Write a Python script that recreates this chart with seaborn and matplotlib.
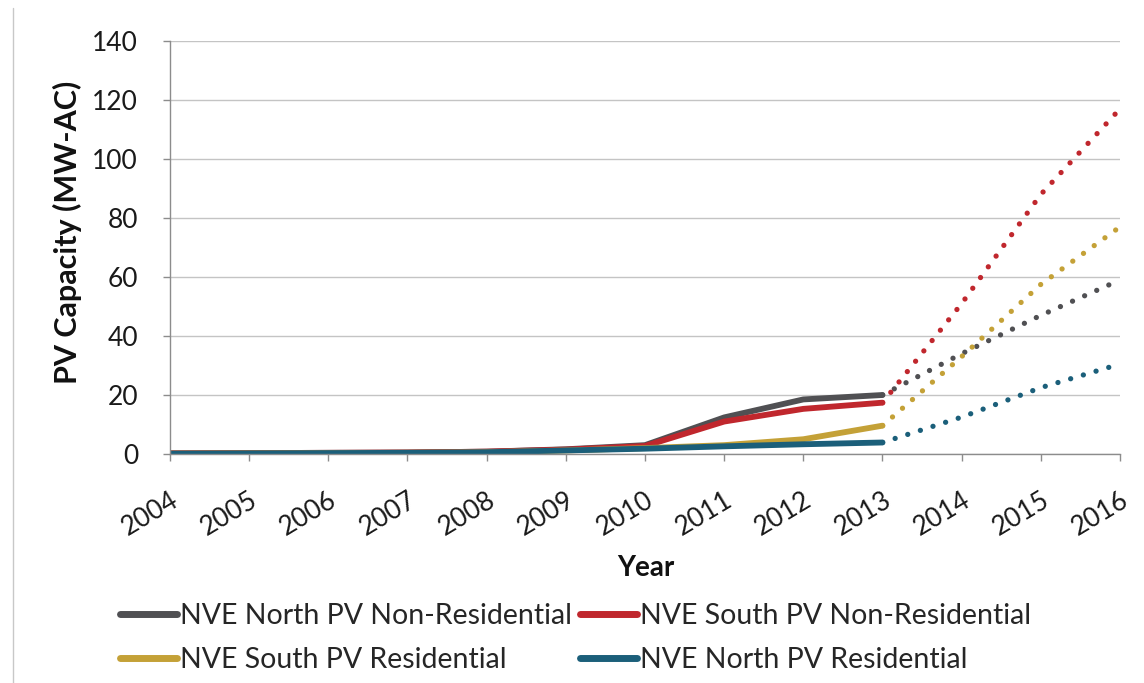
import matplotlib
matplotlib.use("Agg")
import matplotlib.pyplot as plt
import pandas as pd
import seaborn as sns
from matplotlib.lines import Line2D

# Installed PV capacity by utility area (MW-AC): recorded 2004-2013, projected 2013-2016
series_names = [
    "NVE North PV Non-Residential",
    "NVE South PV Non-Residential",
    "NVE South PV Residential",
    "NVE North PV Residential",
]
series_colors = ["#505053", "#c0272d", "#c4a137", "#1b5f7a"]

years_hist = [2004, 2005, 2006, 2007, 2008, 2009, 2010, 2011, 2012, 2013]
north_nonres_hist = [0.2, 0.3, 0.4, 0.5, 0.8, 1.6, 3.0, 12.4, 18.5, 20.0]
south_nonres_hist = [0.2, 0.3, 0.4, 0.5, 0.8, 1.5, 2.7, 11.0, 15.3, 17.4]
south_res_hist = [0.1, 0.2, 0.3, 0.4, 0.6, 1.2, 2.0, 3.0, 5.0, 9.6]
north_res_hist = [0.1, 0.2, 0.3, 0.4, 0.6, 1.2, 1.8, 2.6, 3.3, 3.9]

years_proj = [2013, 2014, 2015, 2016]
north_nonres_proj = [20.0, 34.0, 47.0, 59.0]
south_nonres_proj = [17.4, 51.0, 88.0, 117.0]
south_res_proj = [9.6, 33.0, 57.5, 77.0]
north_res_proj = [3.9, 12.5, 22.5, 30.5]

year_ticks = list(range(2004, 2017))
y_ticks = [0, 20, 40, 60, 80, 100, 120, 140]


def long_frame(years, columns):
    parts = []
    for name, vals in zip(series_names, columns):
        parts.append(pd.DataFrame({"Year": years, "MW": vals, "Series": name}))
    return pd.concat(parts, ignore_index=True)


hist_df = long_frame(years_hist, [north_nonres_hist, south_nonres_hist,
                                  south_res_hist, north_res_hist])
proj_df = long_frame(years_proj, [north_nonres_proj, south_nonres_proj,
                                  south_res_proj, north_res_proj])
palette = dict(zip(series_names, series_colors))

sns.set_theme(style="white")
plt.rcParams["font.family"] = ["Lato", "DejaVu Sans"]

fig = plt.figure(figsize=(11.44, 6.83), dpi=100)
ax = fig.add_axes([170 / 1144, 229 / 683, 950 / 1144, 413 / 683])

sns.lineplot(data=proj_df, x="Year", y="MW", hue="Series", hue_order=series_names,
             palette=palette, estimator=None, errorbar=None, legend=False, ax=ax,
             linewidth=3.8, linestyle=(0, (0.01, 2.5)), dash_capstyle="round")
sns.lineplot(data=hist_df, x="Year", y="MW", hue="Series", hue_order=series_names,
             palette=palette, estimator=None, errorbar=None, legend=False, ax=ax,
             linewidth=4.2, solid_capstyle="round")

ax.set_xlim(2004, 2016)
ax.set_ylim(0, 140)
ax.set_xticks(year_ticks)
ax.set_yticks(y_ticks)
ax.set_yticklabels([str(v) for v in y_ticks], fontsize=19, color="#1a1a1a")
ax.set_xticklabels([str(y) for y in year_ticks], fontsize=19, color="#1a1a1a",
                   rotation=31, ha="right", va="top", rotation_mode="anchor")

ax.yaxis.grid(True, color="#c4c4c4", linewidth=1.0)
ax.xaxis.grid(False)
ax.set_axisbelow(True)
for side in ("top", "right"):
    ax.spines[side].set_visible(False)
for side in ("left", "bottom"):
    ax.spines[side].set_color("#8c8c8c")
    ax.spines[side].set_linewidth(1.0)
ax.tick_params(axis="both", which="major", direction="out", length=5, width=1,
               color="#8c8c8c", bottom=True, left=True)
ax.tick_params(axis="x", pad=19)
ax.tick_params(axis="y", pad=18)

ax.set_ylabel("PV Capacity (MW-AC)", fontsize=22, fontweight="bold", color="#111111")
ax.yaxis.set_label_coords(-0.0926, 0.537)
ax.set_xlabel("Year", fontsize=20, fontweight="bold", color="#111111")
ax.xaxis.set_label_coords(0.501, -0.245)

# legend: row 1 = non-residential, row 2 = residential
order = [0, 2, 1, 3]
handles = [Line2D([], [], color=series_colors[i], linewidth=5) for i in order]
labels = [series_names[i] for i in order]
fig.legend(handles, labels, loc="upper left", bbox_to_anchor=(120 / 1144, 1 - 603 / 683),
           ncol=2, frameon=False, fontsize=20.5, handlelength=2.0, handletextpad=0.1,
           columnspacing=0.3, labelspacing=0.62, borderaxespad=0, borderpad=0)

fig.add_artist(Line2D([13 / 1144, 13 / 1144], [0.0, 1 - 8 / 683],
                      transform=fig.transFigure, color="#c8c8c8", linewidth=1.0))

fig.savefig("out.png", dpi=100, facecolor="white")
